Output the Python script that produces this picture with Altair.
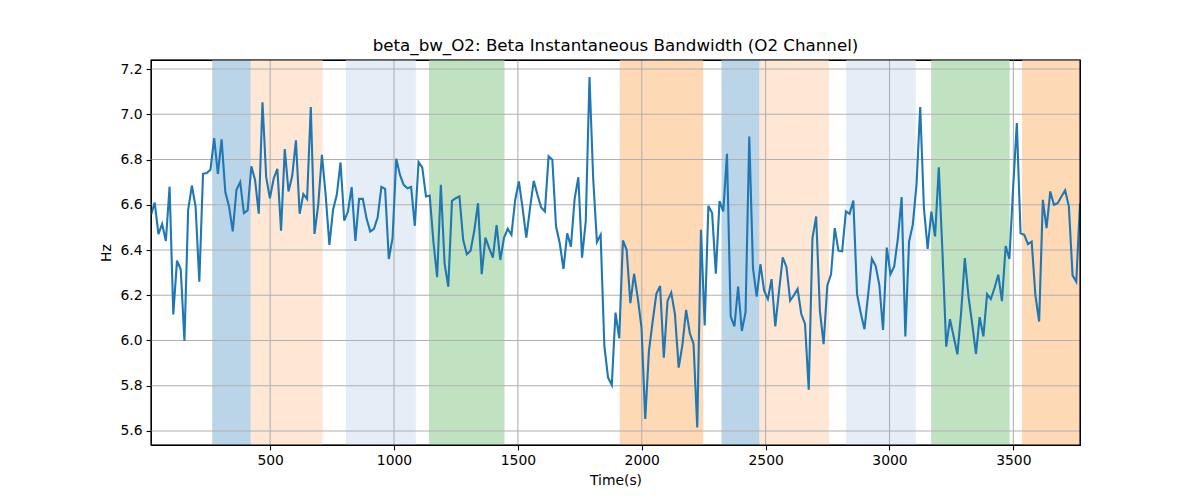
import altair as alt
import pandas as pd
import numpy as np

# ---- data ----
T0 = 19.0      # first sample time (s)
STEP = 15.0    # sampling step (s)

seg1 = [6.555, 6.61, 6.47, 6.515, 6.44, 6.68, 6.115, 6.353, 6.315, 5.998,
        6.578, 6.685, 6.592, 6.26, 6.737, 6.74, 6.755, 6.895, 6.737, 6.889,
        6.656, 6.592, 6.482, 6.666, 6.70, 6.563, 6.575, 6.77, 6.71, 6.561,
        7.053, 6.722, 6.629, 6.715, 6.759, 6.485, 6.846, 6.659, 6.727, 6.885,
        6.56, 6.647, 6.625, 7.032, 6.471, 6.6, 6.821, 6.644, 6.423, 6.578,
        6.644, 6.787]
seg2 = [6.53, 6.57, 6.678, 6.44, 6.626, 6.626, 6.54, 6.482, 6.494, 6.545,
        6.679, 6.67, 6.36, 6.452, 6.803, 6.732, 6.688, 6.673, 6.679, 6.507,
        6.789, 6.765, 6.637, 6.641, 6.437, 6.28, 6.688, 6.341, 6.238, 6.617,
        6.629, 6.637, 6.445, 6.381, 6.397, 6.485, 6.607, 6.293, 6.455, 6.408,
        6.366, 6.51, 6.356, 6.455, 6.494, 6.467, 6.622, 6.703, 6.585, 6.455]
seg3 = [6.585, 6.706, 6.644, 6.588, 6.57, 6.814, 6.799, 6.504, 6.43, 6.316,
        6.474, 6.415, 6.626, 6.722, 6.366, 6.528, 7.165, 6.715, 6.435, 6.467,
        5.976, 5.836, 5.803, 6.123, 6.01, 6.442, 6.401, 6.165, 6.295, 6.187,
        6.057, 5.653, 5.954, 6.084, 6.206, 6.241, 5.924, 6.175, 6.212, 6.116,
        5.88, 5.98, 6.135, 6.032, 5.985, 5.616, 6.489, 6.066, 6.595, 6.563,
        6.295, 6.616]
seg4 = [6.571, 6.825, 6.106, 6.062, 6.238, 6.042, 6.125, 6.902, 6.32, 6.194,
        6.337, 6.22, 6.183, 6.271, 6.062, 6.217, 6.367, 6.325, 6.176, 6.2,
        6.228, 6.117, 6.073, 5.782, 6.453, 6.548, 6.132, 5.984, 6.243, 6.293,
        6.497, 6.397, 6.394, 6.571, 6.56, 6.619, 6.205, 6.121, 6.05, 6.205,
        6.361, 6.33, 6.246, 6.047, 6.411, 6.293, 6.327, 6.453, 6.634, 6.018,
        6.437]
seg5 = [6.511, 6.688, 7.032, 6.585, 6.405, 6.57, 6.46, 6.766, 6.386, 5.973,
        6.094, 6.018, 5.939, 6.121, 6.364, 6.194, 6.072, 5.941, 6.103, 6.018,
        6.205, 6.183, 6.232, 6.291, 6.174, 6.417, 6.361, 6.673, 6.961, 6.474,
        6.467, 6.426, 6.437, 6.199, 6.084, 6.622, 6.497, 6.659, 6.6, 6.607,
        6.637, 6.664, 6.593, 6.288, 6.26, 6.607]

span_start = [266, 422, 806, 1141, 1911, 2322, 2476, 2825, 3168, 3535]
span_end = [422, 712, 1088, 1446, 2248, 2476, 2756, 3106, 3485, 3769]
span_fill = ["#bad5e8", "#fee8d5", "#e5edf7", "#c0e2c0", "#fed9b6",
             "#bad5e8", "#fee8d5", "#e5edf7", "#c0e2c0", "#fed9b6"]

x_ticks = [500, 1000, 1500, 2000, 2500, 3000, 3500]
y_ticks = [5.6, 5.8, 6.0, 6.2, 6.4, 6.6, 6.8, 7.0, 7.2]

X_DOMAIN = [19, 3769]
Y_DOMAIN = [5.538, 7.24]

# ---- tables ----
values = seg1 + seg2 + seg3 + seg4 + seg5
times = T0 + STEP * np.arange(len(values))
line_df = pd.DataFrame({"time": times, "hz": values})
span_df = pd.DataFrame({"start": span_start, "end": span_end, "fill": span_fill})
xg_df = pd.DataFrame({"xt": x_ticks})
yg_df = pd.DataFrame({"yt": y_ticks})

W, H = 929, 385
FONT = "DejaVu Sans"

xscale = alt.Scale(domain=X_DOMAIN, nice=False, zero=False)
yscale = alt.Scale(domain=Y_DOMAIN, nice=False, zero=False)
xaxis = alt.Axis(values=x_ticks, title="Time(s)", format="d")
yaxis = alt.Axis(values=y_ticks, title="Hz", format=".1f")

spans = alt.Chart(span_df).mark_rect(clip=True).encode(
    x=alt.X("start:Q", scale=xscale, axis=xaxis),
    x2="end:Q",
    y=alt.value(0),
    y2=alt.value(H),
    color=alt.Color("fill:N", scale=None),
)

xgrid = alt.Chart(xg_df).mark_rule(color="#b0b0b0", strokeWidth=1.1).encode(
    x=alt.X("xt:Q", scale=xscale, axis=xaxis),
    y=alt.value(0),
    y2=alt.value(H),
)

ygrid = alt.Chart(yg_df).mark_rule(color="#b0b0b0", strokeWidth=1.1).encode(
    y=alt.Y("yt:Q", scale=yscale, axis=yaxis),
    x=alt.value(0),
    x2=alt.value(W),
)

line = alt.Chart(line_df).mark_line(color="#1f77b4", strokeWidth=2.1, clip=True).encode(
    x=alt.X("time:Q", scale=xscale, axis=xaxis),
    y=alt.Y("hz:Q", scale=yscale, axis=yaxis),
)

frame = alt.Chart(yg_df.head(1)).mark_rect(
    fillOpacity=0, stroke="black", strokeWidth=1.1
).encode(
    x=alt.value(0), x2=alt.value(W), y=alt.value(0), y2=alt.value(H)
)

chart = alt.layer(spans, xgrid, ygrid, line, frame).properties(
    width=W,
    height=H,
    padding={"left": 143, "top": 52, "right": 112, "bottom": 55},
    autosize=alt.AutoSizeParams(type="none"),
    title=alt.TitleParams(
        "beta_bw_O2: Beta Instantaneous Bandwidth (O2 Channel)",
        font=FONT, fontSize=16.7, fontWeight="normal", color="black",
        anchor="middle", offset=5,
    ),
).configure_view(
    stroke="black", strokeWidth=1.1
).configure_axis(
    grid=False, domain=False,
    tickColor="black", tickSize=4.9, tickWidth=1.1,
    labelFont=FONT, labelFontSize=13.9, labelColor="black", labelPadding=4,
    titleFont=FONT, titleFontSize=13.9, titleFontWeight="normal", titleColor="black",
).configure_axisX(
    titlePadding=6
).configure_axisY(
    titlePadding=7
)

chart.save("out.html", embed_options={"renderer": "svg", "actions": False})
